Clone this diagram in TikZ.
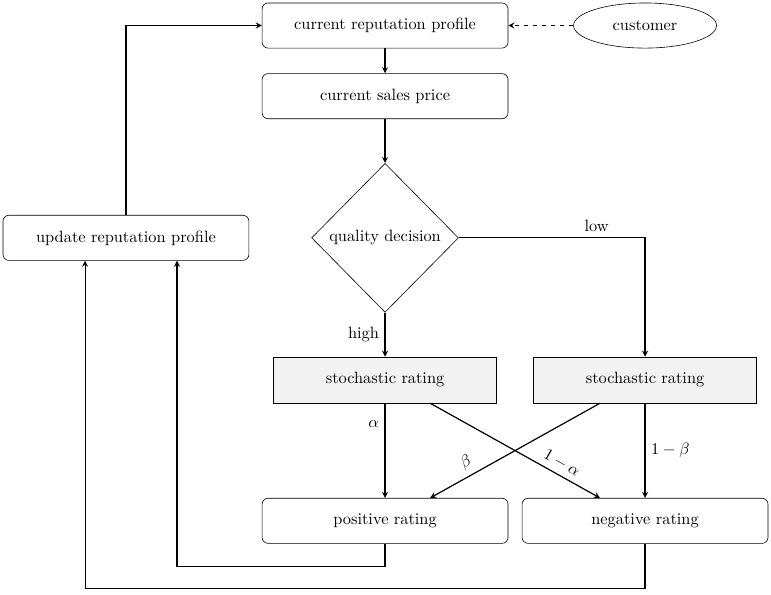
\documentclass[tikz,border=0pt,11pt]{standalone}
\usetikzlibrary{shapes.geometric}
\begin{document}
\begin{tikzpicture}[
  box/.style = {draw, rounded corners, minimum width=5.78cm, minimum height=1.06cm},
  chance/.style = {draw, fill=gray!10, minimum width=5.24cm, minimum height=1.08cm},
  decision/.style = {draw, diamond, minimum width=3.45cm, minimum height=3.5cm, inner sep=0pt},
  line/.style = {thick, ->, >=stealth}
]
\useasboundingbox (0,0) rectangle (18.12,-13.98);

% Nodes
\node [box] (currep) at (9.05,-0.60) {current reputation profile};
\node [draw, ellipse, minimum width=3.36cm, minimum height=1.06cm] (customer) at (15.16,-0.60) {customer};
\node [box] (price) at (9.05,-2.26) {current sales price};
\node [decision] (quality) at (9.05,-5.59) {quality decision};
\node [box] (update) at (2.96,-5.59) {update reputation profile};
\node [chance] (stochhigh) at (9.05,-8.93) {stochastic rating};
\node [chance] (stochlow) at (15.16,-8.93) {stochastic rating};
\node [box] (positive) at (9.05,-12.24) {positive rating};
\node [box] (negative) at (15.16,-12.24) {negative rating};

% Main flow
\draw [line, dashed] (customer) -- (currep);
\draw [line] (currep) -- (price);
\draw [line] (price) -- (quality);
\draw [line] (quality.east) -| (stochlow) node [above, pos=0.37] {low};
\draw [line] (quality) -- (stochhigh) node [left, midway] {high};

% Ratings
\draw [line] (stochhigh) -- (positive) node [left, pos=0.22] {$\alpha$};
\draw [line] ([xshift=1.06cm]stochhigh.south) -- ([xshift=-1.06cm]negative.north) node [sloped, above, pos=0.74] {$1-\alpha$};
\draw [line] ([xshift=-1.06cm]stochlow.south) -- ([xshift=1.06cm]positive.north) node [sloped, above, pos=0.75] {$\beta$};
\draw [line] (stochlow) -- (negative) node [right, midway] {$1-\beta$};

% Feedback
\draw [line] (positive.south) -- ++(0,-0.54) -| ([xshift=1.2cm]update.south);
\draw [line] (negative.south) -- ++(0,-1.06) -| ([xshift=-0.96cm]update.south);
\draw [line] (update.north) |- (currep.west);
\end{tikzpicture}
\end{document}
